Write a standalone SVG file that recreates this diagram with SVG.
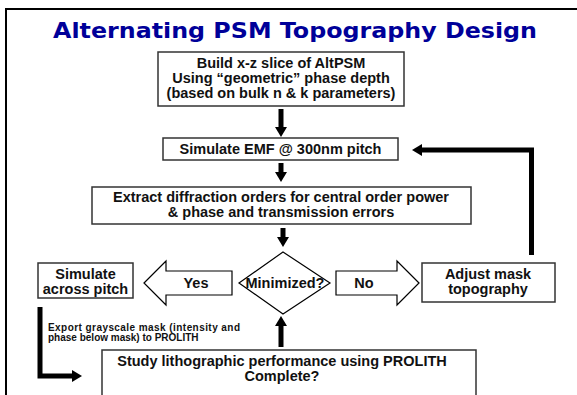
<svg xmlns="http://www.w3.org/2000/svg" width="577" height="395" viewBox="0 0 577 395">
<defs>
<style>
.box{fill:#fff;stroke:#333;stroke-width:1.5}
.t{font-family:"Liberation Sans",Arial,sans-serif;font-weight:bold;font-size:14.5px;fill:#111;text-anchor:middle}
.s{font-family:"Liberation Sans",Arial,sans-serif;font-weight:bold;font-size:10px;fill:#111}
.shaft{stroke:#000;stroke-width:5;fill:none}
.blk{fill:#fff;stroke:#000;stroke-width:1.2}
</style>
<marker id="ah" markerUnits="userSpaceOnUse" markerWidth="12" markerHeight="12" refX="0" refY="6" orient="auto" viewBox="0 0 12 12">
<path d="M0,0 L10,6 L0,12 Z" fill="#000"/>
</marker>
</defs>
<rect width="577" height="395" fill="#fff"/>
<rect x="6" y="9" width="620" height="420" fill="none" stroke="#000" stroke-width="2"/>
<text x="295" y="38" font-family="'DejaVu Sans',Verdana,sans-serif" font-weight="bold" font-size="22" fill="#000099" text-anchor="middle" textLength="484" lengthAdjust="spacingAndGlyphs">Alternating PSM Topography Design</text>

<g id="connectors">
<path class="shaft" d="M281,109 V127" marker-end="url(#ah)"/>
<path class="shaft" d="M281,163 V172" marker-end="url(#ah)"/>
<path class="shaft" d="M283,228 V237" marker-end="url(#ah)"/>
<path class="shaft" d="M281,347 V326" marker-end="url(#ah)"/>
<path class="shaft" d="M531.5,255 V150 H422" marker-end="url(#ah)"/>
<path class="shaft" d="M40,307 V376 H72" marker-end="url(#ah)"/>
</g>

<g id="build">
<rect class="box" x="158" y="52" width="246" height="54"/>
<text class="t" x="281" y="68">Build x-z slice of AltPSM</text>
<text class="t" x="281" y="83">Using “geometric” phase depth</text>
<text class="t" x="281" y="98">(based on bulk n &amp; k parameters)</text>
</g>
<g id="simemf">
<rect class="box" x="163" y="138" width="235" height="22"/>
<text class="t" x="280.5" y="154">Simulate EMF @ 300nm pitch</text>
</g>
<g id="extract">
<rect class="box" x="92" y="187" width="379" height="37"/>
<text class="t" x="281" y="202">Extract diffraction orders for central order power</text>
<text class="t" x="281" y="217">&amp; phase and transmission errors</text>
</g>
<g id="minimized">
<polygon class="blk" points="283,252 330,283 283,314 239,283"/>
<text class="t" x="285" y="288">Minimized?</text>
</g>
<g id="yes">
<polygon class="blk" points="144,283 166,261 166,271 232,271 232,295 166,295 166,305"/>
<text class="t" x="196" y="288">Yes</text>
</g>
<g id="no">
<polygon class="blk" points="419,283 397,261 397,271 336,271 336,295 397,295 397,305"/>
<text class="t" x="364" y="288">No</text>
</g>
<g id="simpitch">
<rect class="box" x="38" y="263" width="95" height="35"/>
<text class="t" x="85.5" y="279">Simulate</text>
<text class="t" x="85.5" y="294">across pitch</text>
</g>
<g id="adjust">
<rect class="box" x="422" y="263" width="133" height="39"/>
<text class="t" x="488" y="279">Adjust mask</text>
<text class="t" x="488" y="294">topography</text>
</g>
<g id="export">
<text class="s" x="48" y="331" textLength="192">Export grayscale mask (intensity and</text>
<text class="s" x="48" y="341">phase below mask) to PROLITH</text>
</g>
<g id="study">
<rect class="box" x="102" y="350" width="374" height="60"/>
<text class="t" x="282" y="366">Study lithographic performance using PROLITH</text>
<text class="t" x="282" y="381">Complete?</text>
</g>
</svg>
